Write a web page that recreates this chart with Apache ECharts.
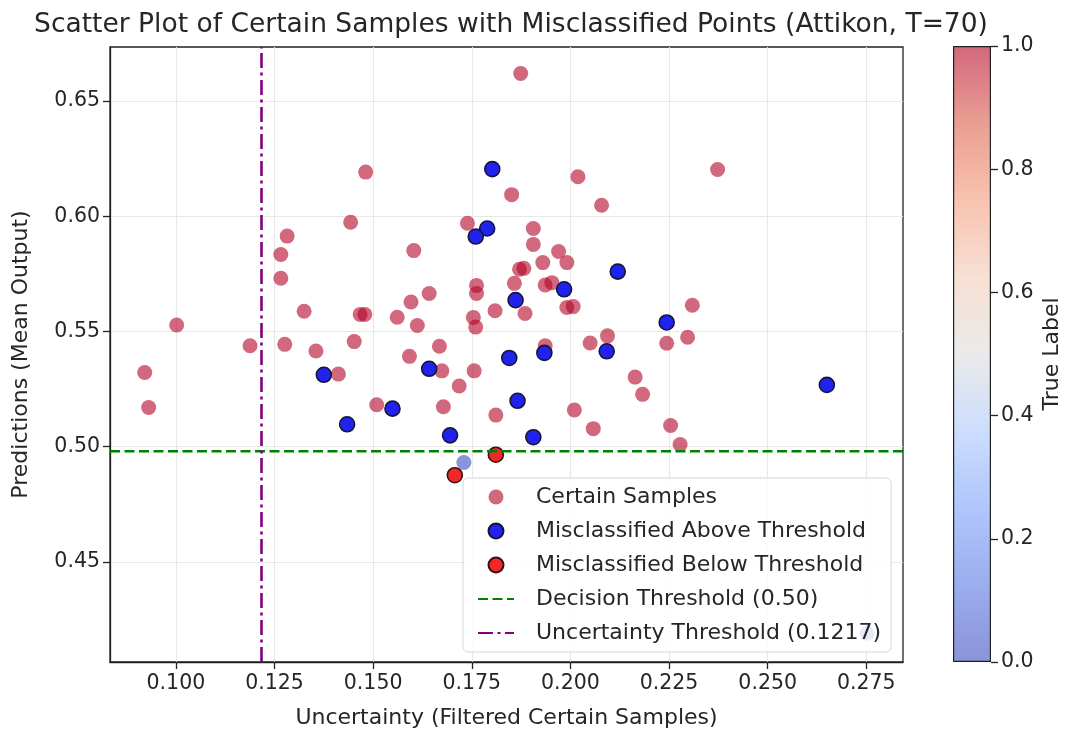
<!DOCTYPE html>
<html>
<head>
<meta charset="utf-8">
<script src="https://cdn.jsdelivr.net/npm/echarts@6/dist/echarts.min.js"></script>
<style>
  html, body { margin: 0; padding: 0; background: #fff; }
  #main { width: 1072px; height: 735px; }
</style>
</head>
<body>
<div id="main"></div>
<script>
// certain samples (uncertainty, mean prediction, true label)
const certainX = [0.1481, 0.1443, 0.1282, 0.1266, 0.1874, 0.2019, 0.1851, 0.2079, 0.1739, 0.1906,
  0.1906, 0.1603, 0.1970, 0.2373, 0.1266, 0.1002, 0.1325, 0.1467, 0.1479, 0.1188,
  0.1276, 0.1355, 0.1452, 0.0921, 0.0931, 0.1412, 0.1930, 0.1991, 0.1871, 0.1882,
  0.1858, 0.1936, 0.1953, 0.1762, 0.1762, 0.1642, 0.1596, 0.1561, 0.1612, 0.1754,
  0.1760, 0.1809, 0.1885, 0.1991, 0.2007, 0.1668, 0.1592, 0.1936, 0.2050, 0.2094,
  0.1674, 0.1756, 0.1718, 0.1509, 0.1678, 0.1811, 0.2010, 0.2058, 0.2309, 0.2244,
  0.2297, 0.2164, 0.2183, 0.2254, 0.2278, 0.1730, 0.2752];
const certainY = [0.6192, 0.5974, 0.5914, 0.5834, 0.6620, 0.6172, 0.6094, 0.6048, 0.5970, 0.5947,
  0.5878, 0.5851, 0.5847, 0.6203, 0.5731, 0.5528, 0.5588, 0.5574, 0.5574, 0.5438,
  0.5444, 0.5415, 0.5456, 0.5322, 0.5170, 0.5315, 0.5799, 0.5799, 0.5770, 0.5774,
  0.5709, 0.5702, 0.5712, 0.5700, 0.5665, 0.5665, 0.5628, 0.5562, 0.5526, 0.5561,
  0.5519, 0.5590, 0.5578, 0.5604, 0.5608, 0.5436, 0.5392, 0.5438, 0.5450, 0.5481,
  0.5329, 0.5329, 0.5263, 0.5182, 0.5173, 0.5137, 0.5159, 0.5078, 0.5614, 0.5449,
  0.5475, 0.5302, 0.5227, 0.5092, 0.5009, 0.4931, 0.4190];
const certainLabel = [1, 1, 1, 1, 1, 1, 1, 1, 1, 1,
  1, 1, 1, 1, 1, 1, 1, 1, 1, 1,
  1, 1, 1, 1, 1, 1, 1, 1, 1, 1,
  1, 1, 1, 1, 1, 1, 1, 1, 1, 1,
  1, 1, 1, 1, 1, 1, 1, 1, 1, 1,
  1, 1, 1, 1, 1, 1, 1, 1, 1, 1,
  1, 1, 1, 1, 1, 0, 0];

// misclassified above threshold
const aboveX = [0.1802, 0.1789, 0.1760, 0.1375, 0.1434, 0.1984, 0.2120, 0.1861, 0.1845, 0.1934,
  0.2092, 0.1642, 0.1549, 0.1866, 0.1695, 0.1906, 0.2244, 0.2650];
const aboveY = [0.6205, 0.5947, 0.5912, 0.5312, 0.5097, 0.5683, 0.5760, 0.5636, 0.5385, 0.5407,
  0.5414, 0.5338, 0.5165, 0.5199, 0.5049, 0.5041, 0.5539, 0.5268];

// misclassified below threshold
const belowX = [0.1811, 0.1707];
const belowY = [0.4965, 0.4876];

const decisionThreshold = 0.498;
const uncertaintyThreshold = 0.1217;

const xRange = [0.0833, 0.2843];
const yRange = [0.4065, 0.6735];
const xTicks = [0.100, 0.125, 0.150, 0.175, 0.200, 0.225, 0.250, 0.275];
const yTicks = [0.45, 0.50, 0.55, 0.60, 0.65];

// coolwarm
const cmapStops = ['#3b4cc0', '#5977e3', '#7b9ff9', '#aac7fd', '#dddcdc', '#f2cbb7', '#f49a7b', '#dc5d4a', '#b40426'];

const font = 'DejaVu Sans';
const txt = '#262626';

function zip(xs, ys, extra) {
  return xs.map((x, i) => extra ? [x, ys[i], extra[i]] : [x, ys[i]]);
}

function hexA(h, a) {
  const r = parseInt(h.slice(1, 3), 16), g = parseInt(h.slice(3, 5), 16), b = parseInt(h.slice(5, 7), 16);
  return 'rgba(' + r + ',' + g + ',' + b + ',' + a + ')';
}

const chart = echarts.init(document.getElementById('main'));

const option = {
  backgroundColor: '#fff',
  animation: false,
  textStyle: { fontFamily: font },
  title: {
    text: 'Scatter Plot of Certain Samples with Misclassified Points (Attikon, T=70)',
    left: 506, top: 7, textAlign: 'center',
    textStyle: { fontSize: 26.5, fontWeight: 'normal', color: txt, fontFamily: font }
  },
  grid: [
    { left: 110, top: 47, width: 793, height: 615, show: true, borderColor: '#222', borderWidth: 1.3 },
    { left: 953, top: 46, width: 38, height: 616 }
  ],
  xAxis: [
    {
      type: 'value', gridIndex: 0, min: xRange[0], max: xRange[1],
      name: 'Uncertainty (Filtered Certain Samples)', nameLocation: 'middle', nameGap: 45,
      nameTextStyle: { fontSize: 22, color: txt },
      axisLine: { show: true, lineStyle: { color: '#222', width: 1.3 } },
      axisTick: { show: true, length: 7, lineStyle: { color: '#222', width: 1.3 }, customValues: xTicks },
      axisLabel: { fontSize: 20.5, color: txt, margin: 11, customValues: xTicks, formatter: v => v.toFixed(3) },
      splitLine: { show: true, lineStyle: { color: '#e8e8e8', width: 1.2 } }
    },
    { type: 'category', gridIndex: 1, data: ['cb'], show: false }
  ],
  yAxis: [
    {
      type: 'value', gridIndex: 0, min: yRange[0], max: yRange[1],
      name: 'Predictions (Mean Output)', nameLocation: 'middle', nameGap: 78,
      nameTextStyle: { fontSize: 22, color: txt },
      axisLine: { show: true, lineStyle: { color: '#222', width: 1.3 } },
      axisTick: { show: true, length: 7, lineStyle: { color: '#222', width: 1.3 }, customValues: yTicks },
      axisLabel: { fontSize: 20.5, color: txt, margin: 10, customValues: yTicks, formatter: v => v.toFixed(2) },
      splitLine: { show: true, lineStyle: { color: '#e8e8e8', width: 1.2 } }
    },
    {
      type: 'value', gridIndex: 1, min: 0, max: 1, interval: 0.2, position: 'right',
      name: 'True Label', nameLocation: 'middle', nameGap: 50, nameRotate: 90,
      nameTextStyle: { fontSize: 22, color: txt },
      axisLine: { show: false },
      axisTick: { show: true, length: 7, lineStyle: { color: '#222', width: 1.3 } },
      axisLabel: { fontSize: 20.5, color: txt, margin: 10, formatter: v => v.toFixed(1) },
      splitLine: { show: false }
    }
  ],
  visualMap: {
    type: 'continuous', show: false, seriesIndex: 0, dimension: 2, min: 0, max: 1,
    inRange: { color: cmapStops }
  },
  legend: {
    orient: 'vertical', left: 463, top: 478,
    itemWidth: 36, itemHeight: 15, itemGap: 12,
    padding: [8, 10, 8, 14],
    backgroundColor: 'rgba(255,255,255,0.8)', borderColor: '#d6d6d6', borderWidth: 1, borderRadius: 5,
    textStyle: { fontSize: 22, color: txt, fontFamily: font, padding: [0, 0, 0, 17] },
    data: [
      'Certain Samples',
      'Misclassified Above Threshold',
      'Misclassified Below Threshold',
      // line entries: hide the marker that echarts puts in the middle of the line icon
      { name: 'Decision Threshold (0.50)', itemStyle: { opacity: 0 } },
      { name: 'Uncertainty Threshold (0.1217)', itemStyle: { opacity: 0 } }
    ]
  },
  series: [
    {
      name: 'Certain Samples', type: 'scatter', xAxisIndex: 0, yAxisIndex: 0,
      data: zip(certainX, certainY, certainLabel),
      symbolSize: 15,
      itemStyle: { color: '#b40426', opacity: 0.6 }
    },
    {
      name: 'Misclassified Above Threshold', type: 'scatter', xAxisIndex: 0, yAxisIndex: 0,
      data: zip(aboveX, aboveY),
      symbolSize: 15,
      itemStyle: { color: '#2222ee', borderColor: '#14163a', borderWidth: 1.6, opacity: 1 }
    },
    {
      name: 'Misclassified Below Threshold', type: 'scatter', xAxisIndex: 0, yAxisIndex: 0,
      data: zip(belowX, belowY),
      symbolSize: 15,
      itemStyle: { color: '#f02828', borderColor: '#3a1010', borderWidth: 1.6, opacity: 1 }
    },
    {
      name: 'Decision Threshold (0.50)', type: 'line', xAxisIndex: 0, yAxisIndex: 0,
      data: [[xRange[0], decisionThreshold], [xRange[1], decisionThreshold]],
      symbol: 'none', silent: true,
      itemStyle: { color: '#008000' },
      lineStyle: { color: '#008000', width: 2.6, type: [10, 4.5] }
    },
    {
      name: 'Uncertainty Threshold (0.1217)', type: 'line', xAxisIndex: 0, yAxisIndex: 0,
      data: [[uncertaintyThreshold, yRange[0]], [uncertaintyThreshold, yRange[1]]],
      symbol: 'none', silent: true,
      itemStyle: { color: '#800080' },
      lineStyle: { color: '#800080', width: 2.6, type: [15, 4.5, 3, 4.5] }
    },
    {
      // colorbar
      type: 'bar', xAxisIndex: 1, yAxisIndex: 1, data: [1], barWidth: '100%', silent: true,
      itemStyle: {
        color: new echarts.graphic.LinearGradient(0, 1, 0, 0,
          cmapStops.map((c, i) => ({ offset: i / (cmapStops.length - 1), color: hexA(c, 0.6) }))),
        borderColor: '#222', borderWidth: 1.2
      }
    }
  ]
};

chart.setOption(option);
</script>
</body>
</html>
